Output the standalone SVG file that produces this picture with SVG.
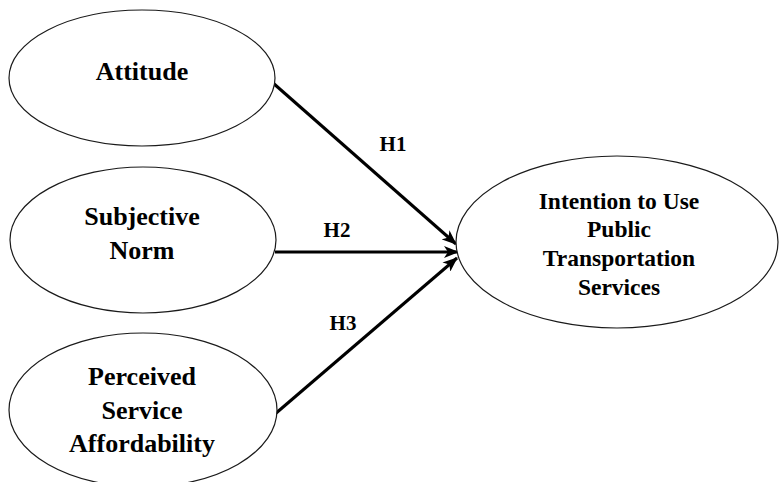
<svg xmlns="http://www.w3.org/2000/svg" width="779" height="482" viewBox="0 0 779 482">
<style>
  .node ellipse { fill: #ffffff; stroke: #1a1a1a; stroke-width: 1.2; }
  .lbl { font-family: "Liberation Serif", "Times New Roman", serif; font-weight: bold; fill: #000; text-anchor: middle; }
  .l26 { font-size: 26px; }
  .l23 { font-size: 23.5px; }
  .h { font-family: "Liberation Serif", "Times New Roman", serif; font-weight: bold; font-size: 21px; fill: #000; text-anchor: middle; }
  .edge { stroke: #000; stroke-width: 3; fill: none; marker-end: url(#arr); }
</style>
<defs>
  <marker id="arr" markerUnits="userSpaceOnUse" markerWidth="16" markerHeight="12" refX="14" refY="6" orient="auto">
    <path d="M0,0 L15,6 L0,12 L4,6 Z" fill="#000"/>
  </marker>
</defs>
<rect width="779" height="482" fill="#ffffff"/>
<g id="connectors">
  <line class="edge" x1="273" y1="83" x2="456" y2="244"/>
  <line class="edge" x1="275" y1="252" x2="458" y2="252"/>
  <line class="edge" x1="275" y1="414" x2="457" y2="258"/>
  <text class="h" x="393" y="151">H1</text>
  <text class="h" x="337" y="237">H2</text>
  <text class="h" x="343" y="330">H3</text>
</g>
<g id="attitude" class="node">
  <ellipse cx="142" cy="78" rx="133" ry="68"/>
  <text class="lbl l26" x="142" y="80">Attitude</text>
</g>
<g id="subjective-norm" class="node">
  <ellipse cx="143" cy="240" rx="133" ry="73"/>
  <text class="lbl l26" x="142" y="225">Subjective</text>
  <text class="lbl l26" x="142" y="259">Norm</text>
</g>
<g id="perceived-service-affordability" class="node">
  <ellipse cx="143" cy="410" rx="134" ry="77"/>
  <text class="lbl l26" x="142" y="385">Perceived</text>
  <text class="lbl l26" x="142" y="419">Service</text>
  <text class="lbl l26" x="142" y="452">Affordability</text>
</g>
<g id="intention" class="node">
  <ellipse cx="617" cy="242" rx="161" ry="86"/>
  <text class="lbl l23" x="619" y="209">Intention to Use</text>
  <text class="lbl l23" x="619" y="237">Public</text>
  <text class="lbl l23" x="619" y="266">Transportation</text>
  <text class="lbl l23" x="619" y="295">Services</text>
</g>
</svg>
